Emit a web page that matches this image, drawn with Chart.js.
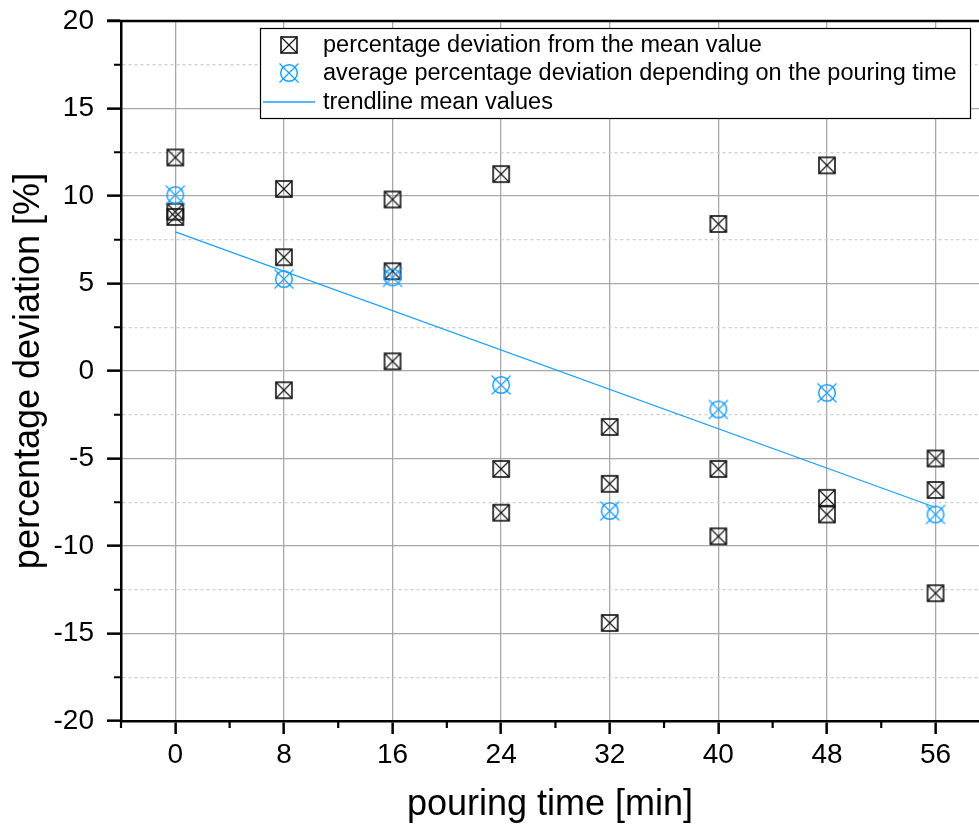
<!DOCTYPE html>
<html><head><meta charset="utf-8">
<script src="https://cdn.jsdelivr.net/npm/chart.js@4.4.0/dist/chart.umd.min.js"></script>
<style>html,body{margin:0;padding:0;background:#fff;overflow:hidden}#wrap{width:979px;height:829px;position:relative}</style>
</head><body><div id="wrap"><canvas id="c"></canvas></div>
<script>
// ---- data ----
const pouringTimes = [0, 8, 16, 24, 32, 40, 48, 56];
const deviationA = [12.2, 10.4, 9.8, 11.25, -3.2, 8.4, 11.75, -5.0];
const deviationB = [9.1, 6.5, 5.7, -5.6, -6.45, -5.6, -7.25, -6.8];
const deviationC = [8.8, -1.1, 0.55, -8.1, -14.4, -9.45, -8.2, -12.7];
const meanDeviation = [10.05, 5.25, 5.35, -0.8, -8.0, -2.2, -1.25, -8.2];
const trendTimes = [0, 56];
const trendValues = [7.95, -7.8];
const xTickValues = [-4, 0, 4, 8, 12, 16, 20, 24, 28, 32, 36, 40, 44, 48, 52, 56];
const xMajorLabels = ['0', '8', '16', '24', '32', '40', '48', '56'];
const yTickValues = [-20, -17.5, -15, -12.5, -10, -7.5, -5, -2.5, 0, 2.5, 5, 7.5, 10, 12.5, 15, 17.5, 20];
const seriesLabels = ['percentage deviation from the mean value',
  'average percentage deviation depending on the pouring time',
  'trendline mean values'];
const xTitle = 'pouring time [min]';
const yTitle = 'percentage deviation [%]';

const FONT = '"Liberation Sans", Arial, Helvetica, sans-serif';
const BLUE = '#1AA0FF';

function squareMarker() {
  const c = document.createElement('canvas'); c.width = 20; c.height = 20;
  const g = c.getContext('2d');
  g.strokeStyle = '#111'; g.lineWidth = 1.6;
  g.strokeRect(2, 2, 16, 16);
  g.lineWidth = 1.1;
  g.beginPath(); g.moveTo(2, 2); g.lineTo(18, 18); g.moveTo(18, 2); g.lineTo(2, 18); g.stroke();
  return c;
}
function circleMarker() {
  const c = document.createElement('canvas'); c.width = 22; c.height = 22;
  const g = c.getContext('2d');
  g.strokeStyle = BLUE; g.lineWidth = 1.5;
  g.beginPath(); g.arc(11, 11, 8.3, 0, Math.PI * 2); g.stroke();
  g.lineWidth = 1.2;
  g.beginPath(); g.moveTo(1.5, 1.5); g.lineTo(20.5, 20.5); g.moveTo(20.5, 1.5); g.lineTo(1.5, 20.5); g.stroke();
  return c;
}
const sqImg = squareMarker();
const ciImg = circleMarker();

const rawPoints = [];
[deviationA, deviationB, deviationC].forEach(arr => arr.forEach((v, i) => rawPoints.push({x: pouringTimes[i], y: v})));
const meanPoints = meanDeviation.map((v, i) => ({x: pouringTimes[i], y: v}));
const trendPoints = trendValues.map((v, i) => ({x: trendTimes[i], y: v}));

const isMajorX = v => v >= 0 && v % 8 === 0;
const isMajorY = v => v % 5 === 0;
const zeroPad = s => { s.paddingTop = 0; s.paddingBottom = 0; s.paddingLeft = 0; s.paddingRight = 0; };

const framePlugin = {
  id: 'frame',
  afterDraw(chart) {
    const {ctx, chartArea: a, scales} = chart;
    ctx.save();
    ctx.strokeStyle = '#000';
    ctx.lineWidth = 2.5;
    ctx.beginPath(); ctx.moveTo(a.left - 14, a.top); ctx.lineTo(a.right, a.top); ctx.stroke();
    // minor ticks
    ctx.lineWidth = 2.2;
    ctx.beginPath();
    yTickValues.filter(v => !isMajorY(v)).forEach(v => {
      const y = scales.y.getPixelForValue(v);
      ctx.moveTo(a.left - 7, y); ctx.lineTo(a.left, y);
    });
    xTickValues.filter(v => !isMajorX(v)).forEach(v => {
      const x = scales.x.getPixelForValue(v);
      ctx.moveTo(x, a.bottom); ctx.lineTo(x, a.bottom + 7);
    });
    ctx.stroke();
    // legend
    const bx = 260, by = 28, bw = 710, bh = 90;
    ctx.fillStyle = '#fff';
    ctx.fillRect(bx, by, bw, bh);
    ctx.lineWidth = 1.2; ctx.strokeStyle = '#000';
    ctx.strokeRect(bx + 0.5, by + 0.5, bw, bh);
    ctx.font = '23.5px ' + FONT;
    ctx.fillStyle = '#000';
    ctx.textBaseline = 'middle';
    const rows = [45, 73, 102];
    ctx.drawImage(sqImg, 289 - 10, rows[0] - 10);
    ctx.drawImage(ciImg, 289 - 11, rows[1] - 11);
    ctx.strokeStyle = BLUE; ctx.lineWidth = 1.3;
    ctx.beginPath(); ctx.moveTo(263, rows[2]); ctx.lineTo(315, rows[2]); ctx.stroke();
    seriesLabels.forEach((t, i) => ctx.fillText(t, 323, rows[i] + 1));
    ctx.restore();
  }
};

new Chart(document.getElementById('c'), {
  type: 'scatter',
  data: {
    datasets: [
      {label: seriesLabels[0], data: rawPoints, pointStyle: sqImg, pointRadius: 8, order: 3},
      {label: seriesLabels[1], data: meanPoints, pointStyle: ciImg, pointRadius: 9, order: 2},
      {label: seriesLabels[2], data: trendPoints, type: 'line', showLine: true, pointRadius: 0,
       borderColor: BLUE, borderWidth: 1.3, fill: false, order: 1}
    ]
  },
  options: {
    responsive: true, maintainAspectRatio: false, animation: false,
    layout: {autoPadding: false, padding: {top: 21, right: 0, left: 0, bottom: 0}},
    plugins: {legend: {display: false}, tooltip: {enabled: false}},
    scales: {
      x: {
        type: 'linear', min: -4, max: 59.2,
        afterBuildTicks: s => { s.ticks = xTickValues.map(v => ({value: v})); },
        afterFit: s => { s.height = 108; zeroPad(s); },
        ticks: {
          color: '#000', font: {family: FONT, size: 28}, padding: 4, maxRotation: 0, autoSkip: false,
          callback: v => isMajorX(v) ? xMajorLabels[pouringTimes.indexOf(v)] : ''
        },
        grid: {
          color: c => isMajorX(c.tick.value) ? '#a8a8a8' : 'rgba(0,0,0,0)',
          lineWidth: 1.3, tickLength: 13, tickWidth: 2.5,
          tickColor: c => isMajorX(c.tick.value) ? '#000' : 'rgba(0,0,0,0)'
        },
        border: {display: true, color: '#000', width: 2.5},
        title: {display: true, text: xTitle, color: '#000', font: {family: FONT, size: 36}, padding: {top: 0, bottom: 2}}
      },
      y: {
        type: 'linear', min: -20, max: 20,
        afterBuildTicks: s => { s.ticks = yTickValues.map(v => ({value: v})); },
        afterFit: s => { s.width = 121; zeroPad(s); },
        ticks: {
          color: '#000', font: {family: FONT, size: 28}, padding: 13, autoSkip: false,
          callback: v => isMajorY(v) ? String(v) : ''
        },
        grid: {
          color: c => isMajorY(c.tick.value) ? '#a8a8a8' : '#cfcfcf',
          lineWidth: 1.3, tickLength: 14, tickWidth: 2.5,
          tickColor: c => isMajorY(c.tick.value) ? '#000' : 'rgba(0,0,0,0)'
        },
        border: {display: true, color: '#000', width: 2.5,
          dash: c => (c.tick && !isMajorY(c.tick.value)) ? [3, 3] : []},
        title: {display: true, text: yTitle, color: '#000', font: {family: FONT, size: 36}, padding: {top: 7, bottom: 0}}
      }
    }
  },
  plugins: [framePlugin]
});
</script>
</body></html>
